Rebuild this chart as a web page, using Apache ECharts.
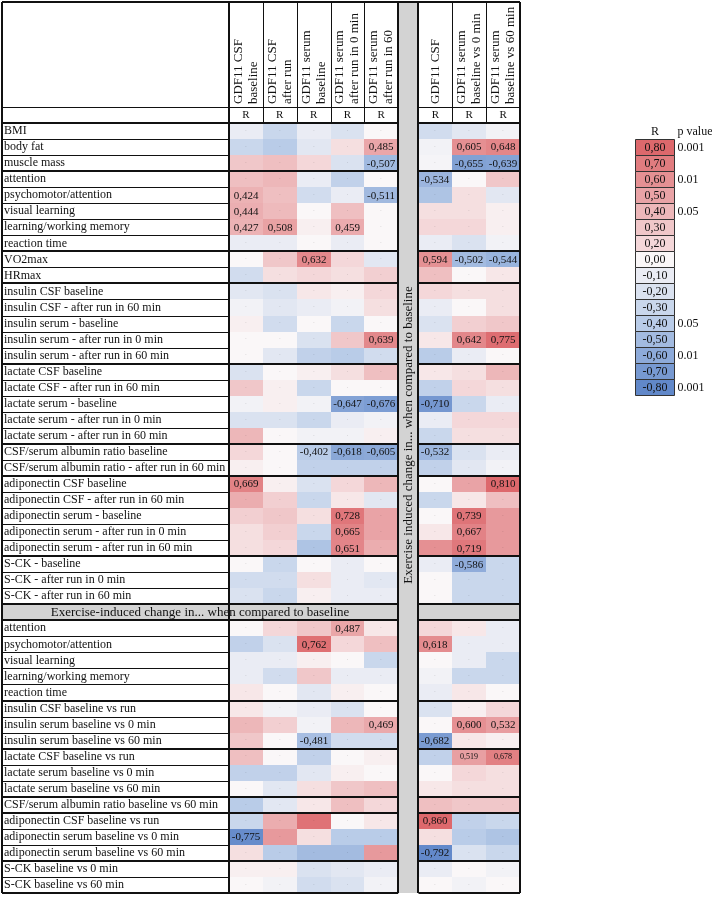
<!DOCTYPE html>
<html><head><meta charset="utf-8">
<script src="https://cdn.jsdelivr.net/npm/echarts@6/dist/echarts.min.js"></script>
<style>html,body{margin:0;padding:0;background:#fff}#c{width:712px;height:897px}</style>
</head><body><div id="c"></div><script>
const FONT = '"Liberation Serif", "Times New Roman", serif';

const columnNames = [
  'GDF11 CSF\nbaseline', 'GDF11 CSF\nafter run', 'GDF11 serum\nbaseline',
  'GDF11 serum\nafter run in 0 min', 'GDF11 serum\nafter run in 60',
  'GDF11 CSF', 'GDF11 serum\nbaseline vs 0 min', 'GDF11 serum\nbaseline vs 60 min'
];
const topRowLabels = [
  'BMI', 'body fat', 'muscle mass',
  'attention', 'psychomotor/attention', 'visual learning', 'learning/working memory', 'reaction time',
  'VO2max', 'HRmax',
  'insulin CSF baseline', 'insulin CSF - after run in 60 min', 'insulin serum - baseline', 'insulin serum - after run in 0 min', 'insulin serum - after run in 60 min',
  'lactate CSF baseline', 'lactate CSF - after run in 60 min', 'lactate serum - baseline', 'lactate serum - after run in 0 min', 'lactate serum - after run in 60 min',
  'CSF/serum albumin ratio baseline', 'CSF/serum albumin ratio - after run in 60 min',
  'adiponectin CSF baseline', 'adiponectin CSF - after run in 60 min', 'adiponectin serum - baseline', 'adiponectin serum - after run in 0 min', 'adiponectin serum - after run in 60 min',
  'S-CK - baseline', 'S-CK - after run in 0 min', 'S-CK - after run in 60 min'
];
const bottomRowLabels = [
  'attention', 'psychomotor/attention', 'visual learning', 'learning/working memory', 'reaction time',
  'insulin CSF baseline vs run', 'insulin serum baseline vs 0 min', 'insulin serum baseline vs 60 min',
  'lactate CSF baseline vs run', 'lactate serum baseline vs 0 min', 'lactate serum baseline vs 60 min',
  'CSF/serum albumin ratio baseline vs 60 min',
  'adiponectin CSF baseline vs run', 'adiponectin serum baseline vs 0 min', 'adiponectin serum baseline vs 60 min',
  'S-CK baseline vs 0 min', 'S-CK baseline vs 60 min'
];
const sectionTitle = 'Exercise-induced change in... when compared to baseline';
const bandTitle = 'Exercise induced change in... when compared to baseline';
const topGroupSizes = [3, 5, 2, 5, 5, 2, 5, 3];
const bottomGroupSizes = [5, 3, 3, 1, 3, 2];

// R values, one array per column (47 rows: 30 top, 17 bottom)
const gdfCsfBaseline = [-0.10,-0.30,0.30, 0.35,0.424,0.444,0.427,-0.10, 0.00,-0.25, -0.15,-0.05,0.05,0.00,0.00, -0.20,0.30,-0.05,-0.20,0.40, 0.20,0.05, 0.669,0.45,0.25,0.15,0.15, 0.00,-0.25,-0.20,
  0.00,-0.35,-0.10,-0.10,0.10, 0.10,0.40,0.30, 0.35,-0.35,0.00, -0.40, -0.30,-0.775,0.15, 0.05,0.00];
const gdfCsfAfterRun = [-0.30,-0.40,0.35, 0.40,0.35,0.38,0.508,-0.10, 0.30,0.15, -0.20,-0.15,-0.25,0.00,-0.15, 0.00,0.05,0.05,-0.20,0.00, 0.00,0.00, 0.05,0.25,0.30,0.25,0.20, -0.30,-0.25,-0.30,
  0.20,-0.20,-0.10,-0.25,0.00, -0.05,0.25,0.00, 0.00,-0.35,-0.15, -0.15, 0.45,0.55,-0.40, 0.05,-0.05];
const gdfSerumBaseline = [-0.10,-0.15,0.20, -0.10,-0.25,0.00,0.05,0.00, 0.632,0.20, 0.10,-0.10,0.00,-0.20,-0.35, 0.05,-0.30,-0.05,-0.30,-0.05, -0.402,-0.35, -0.20,-0.30,0.15,-0.30,-0.45, 0.00,0.15,0.05,
  0.30,0.762,0.05,0.30,-0.15, -0.10,-0.05,-0.481, -0.35,-0.15,0.15, 0.10, 0.75,0.15,-0.50, -0.20,-0.25];
const gdfSerumRun0 = [-0.20,0.15,-0.20, -0.35,-0.10,0.35,0.459,-0.10, 0.20,0.15, 0.05,-0.05,-0.30,0.30,-0.40, 0.15,0.00,-0.647,-0.10,-0.05, -0.618,-0.35, 0.20,0.10,0.728,0.665,0.651, -0.10,-0.10,-0.10,
  0.487,0.20,0.00,-0.10,0.05, -0.20,0.40,-0.25, 0.00,0.05,0.30, 0.35, 0.00,-0.40,-0.50, -0.15,-0.20];
const gdfSerumRun60 = [0.00,0.485,-0.507, 0.00,-0.511,0.00,0.00,0.00, -0.15,0.25, 0.20,0.15,0.00,0.639,-0.25, 0.35,0.00,-0.676,-0.05,0.05, -0.605,-0.35, 0.40,-0.15,0.50,0.50,0.45, 0.00,-0.15,-0.10,
  0.10,0.35,-0.30,-0.10,0.00, 0.00,0.469,-0.25, 0.05,0.00,0.35, 0.20, 0.10,-0.40,0.55, -0.10,-0.05];
const changeCsf = [-0.25,-0.05,-0.03, -0.534,-0.45,0.15,0.20,-0.10, 0.594,0.35, 0.20,-0.10,-0.20,0.10,-0.40, 0.10,-0.35,-0.710,-0.10,-0.30, -0.532,-0.35, 0.00,-0.30,0.00,0.10,0.60, -0.10,0.00,0.00,
  0.20,0.618,0.00,-0.05,-0.10, -0.20,0.00,-0.682, -0.35,0.00,0.10, 0.35, 0.860,0.15,-0.792, -0.10,0.00];
const changeSerum0 = [-0.15,0.605,-0.655, 0.00,0.15,0.15,0.20,-0.20, -0.502,0.00, 0.15,0.00,0.25,0.642,-0.10, 0.15,0.20,-0.30,0.20,0.15, -0.20,-0.15, 0.50,0.10,0.739,0.667,0.719, -0.586,-0.30,-0.30,
  0.10,-0.10,-0.10,-0.30,0.10, 0.05,0.600,0.10, 0.519,0.20,0.15, 0.30, -0.35,-0.40,-0.20, 0.00,-0.05];
const changeSerum60 = [-0.05,0.648,-0.639, 0.30,-0.15,0.05,0.05,-0.05, -0.544,0.10, 0.15,0.15,0.30,0.775,0.00, 0.40,0.15,-0.10,0.20,0.15, -0.10,-0.05, 0.810,0.35,0.55,0.55,0.55, -0.30,-0.30,-0.30,
  -0.10,-0.10,-0.30,-0.30,0.00, 0.20,0.532,0.05, 0.678,0.15,0.15, 0.30, -0.30,-0.45,-0.30, -0.05,0.00];

// significant cells [row, column] whose value is printed
const significantCells = [[1,4],[1,6],[1,7],[2,4],[2,6],[2,7],[3,5],[4,0],[4,4],[5,0],[6,0],[6,1],[6,3],
  [8,2],[8,5],[8,6],[8,7],[13,4],[13,6],[13,7],[17,3],[17,4],[17,5],[20,2],[20,3],[20,4],[20,5],
  [22,0],[22,7],[24,3],[24,6],[25,3],[25,6],[26,3],[26,6],[27,6],[30,3],[31,2],[31,5],[36,4],[36,6],[36,7],
  [37,2],[37,5],[38,6],[38,7],[42,5],[43,0],[44,5]];
const smallTextCells = [[38,6],[38,7]];

const legendValues = [0.80,0.70,0.60,0.50,0.40,0.30,0.20,0.00,-0.10,-0.20,-0.30,-0.40,-0.50,-0.60,-0.70,-0.80];
const legendPValues = ['0.001','','0.01','','0.05','','','','','','','0.05','','0.01','','0.001'];

// ---------- layout constants ----------
const TABLE_LEFT = 2, TABLE_TOP = 2;
const GAP_START = 5, GAP_END = 5.6;
const colX = [0,1,2,3,4,5.6,6.6,7.6];
const columns = [gdfCsfBaseline, gdfCsfAfterRun, gdfSerumBaseline, gdfSerumRun0, gdfSerumRun60, changeCsf, changeSerum0, changeSerum60];

const NTOP = topRowLabels.length;
const SECTION_CAT = NTOP + 1;
const categories = [''].concat(topRowLabels, [''], bottomRowLabels);
const catOf = k => k < NTOP ? k + 1 : k + 2;

const thickTops = new Set();
{ let c = 1; thickTops.add(c); topGroupSizes.forEach(s => { c += s; thickTops.add(c); });
  c = SECTION_CAT + 1; thickTops.add(c); bottomGroupSizes.forEach(s => { c += s; thickTops.add(c); }); }

const sigSet = new Set(significantCells.map(d => d[0] + '_' + d[1]));
const smallSet = new Set(smallTextCells.map(d => d[0] + '_' + d[1]));
const fmt = (v, n) => (v < 0 ? '-' : '') + Math.abs(v).toFixed(n).replace('.', ',');

const cellData = [];
columns.forEach((col, j) => col.forEach((v, k) => cellData.push([colX[j], catOf(k), v, k, j])));

function renderCell(params, api) {
  const p = api.coord([api.value(0), api.value(1)]);
  const w = api.size([1, 0])[0];
  const h = api.size([0, 1])[1];
  const x0 = Math.round(p[0]), x1 = Math.round(p[0] + w);
  const y0 = Math.round(p[1] - h / 2), y1 = Math.round(p[1] + h / 2);
  const k = api.value(3), j = api.value(4), v = api.value(2);
  const key = k + '_' + j;
  const children = [{ type: 'rect', shape: { x: x0, y: y0, width: x1 - x0, height: y1 - y0 }, style: { fill: api.visual('color') } }];
  if (sigSet.has(key)) {
    children.push({ type: 'text', x: (x0 + x1) / 2, y: p[1] + 0.5, style: { text: fmt(v, 3), fontFamily: FONT, fontSize: smallSet.has(key) ? 8 : 11, fill: '#111', align: 'center', verticalAlign: 'middle' } });
  } else {
    children.push({ type: 'text', x: (x0 + x1) / 2, y: p[1], style: { text: '·', fontFamily: FONT, fontSize: 7, fill: 'rgba(0,0,0,0.22)', align: 'center', verticalAlign: 'middle' } });
  }
  return { type: 'group', children };
}

function line(x1, y1, x2, y2, w) {
  return { type: 'line', shape: { x1, y1, x2, y2 }, style: { stroke: '#111', lineWidth: w } };
}

function renderRowLine(params, api) {
  const cs = params.coordSys;
  const i = api.value(1);
  const h = api.size([0, 1])[1];
  const y = Math.round(api.coord([0, i])[1] - h / 2);
  const xb0 = api.coord([GAP_START, 0])[0], xb1 = api.coord([GAP_END, 0])[0];
  const right = cs.x + cs.width;
  const ch = [];
  if (thickTops.has(i)) {
    ch.push(line(TABLE_LEFT, y, xb0, y, 2), line(xb1, y, right, y, 2));
  } else if (i === 0) {
    ch.push(line(TABLE_LEFT, y + 0.5, xb0, y + 0.5, 1), line(xb1, y + 0.5, right, y + 0.5, 1));
  } else {
    ch.push(line(TABLE_LEFT, y + 0.5, cs.x, y + 0.5, 1));
  }
  if (i === categories.length - 1) {
    const yb = Math.round(api.coord([0, i])[1] + h / 2);
    ch.push(line(TABLE_LEFT, yb, xb0, yb, 2), line(xb1, yb, right, yb, 2));
  }
  return { type: 'group', children: ch };
}

function renderFrame(params, api) {
  const cs = params.coordSys;
  const h = api.size([0, 1])[1];
  const rowTop = i => api.coord([0, i])[1] - h / 2;
  const bottom = cs.y + cs.height, right = cs.x + cs.width;
  const xb0 = api.coord([GAP_START, 0])[0], xb1 = api.coord([GAP_END, 0])[0];
  const ch = [];
  ch.push({ type: 'rect', shape: { x: xb0, y: TABLE_TOP, width: xb1 - xb0, height: bottom - TABLE_TOP }, style: { fill: '#d3d3d3' } });
  const sy0 = Math.round(rowTop(SECTION_CAT)), sy1 = Math.round(rowTop(SECTION_CAT + 1));
  ch.push({ type: 'rect', shape: { x: TABLE_LEFT, y: sy0, width: xb0 - TABLE_LEFT, height: sy1 - sy0 }, style: { fill: '#d3d3d3' } });
  ch.push({ type: 'rect', shape: { x: xb1, y: sy0, width: right - xb1, height: sy1 - sy0 }, style: { fill: '#d3d3d3' } });
  ch.push({ type: 'text', x: (TABLE_LEFT + xb0) / 2, y: (sy0 + sy1) / 2 + 0.5, style: { text: sectionTitle, fontFamily: FONT, fontSize: 13, fill: '#111', align: 'center', verticalAlign: 'middle' } });
  ch.push({ type: 'text', x: (xb0 + xb1) / 2 + 0.5, y: 435, rotation: Math.PI / 2, style: { text: bandTitle, fontFamily: FONT, fontSize: 13, fill: '#111', align: 'center', verticalAlign: 'middle' } });
  const rTop = rowTop(0), rBot = rowTop(1);
  colX.forEach((x, j) => {
    const cx = api.coord([x + 0.5, 0])[0];
    ch.push({ type: 'text', x: cx, y: rTop - 3, rotation: Math.PI / 2, style: { text: columnNames[j], fontFamily: FONT, fontSize: 13, lineHeight: 15, fill: '#111', align: 'left', verticalAlign: 'middle' } });
    ch.push({ type: 'text', x: cx, y: (rTop + rBot) / 2 + 0.5, style: { text: 'R', fontFamily: FONT, fontSize: 11, fill: '#111', align: 'center', verticalAlign: 'middle' } });
    if (j !== 0 && j !== 5) {
      const lx = Math.round(api.coord([x, 0])[0]) + 0.5;
      ch.push(line(lx, TABLE_TOP, lx, rBot, 1));
    }
  });
  [TABLE_LEFT, cs.x, xb0, xb1, right].forEach(x => ch.push(line(Math.round(x), TABLE_TOP, Math.round(x), bottom, 2)));
  ch.push(line(TABLE_LEFT, TABLE_TOP, right, TABLE_TOP, 2));
  return { type: 'group', children: ch };
}

function renderLegend(params, api) {
  const i = api.value(1);
  const p = api.coord([0, i]);
  const w = api.size([1, 0])[0];
  const h = api.size([0, 1])[1];
  const x0 = Math.round(p[0]) + 0.5, y0 = Math.round(p[1] - h / 2) + 0.5;
  const ch = [
    { type: 'rect', shape: { x: x0, y: y0, width: Math.round(w), height: Math.round(h) }, style: { fill: api.visual('color'), stroke: '#333', lineWidth: 1 } },
    { type: 'text', x: x0 + w / 2, y: p[1] + 0.5, style: { text: fmt(api.value(2), 2), fontFamily: FONT, fontSize: 12, fill: '#111', align: 'center', verticalAlign: 'middle' } }
  ];
  const pv = legendPValues[i];
  if (pv) ch.push({ type: 'text', x: x0 + w + 3, y: p[1] + 0.5, style: { text: pv, fontFamily: FONT, fontSize: 12, fill: '#111', align: 'left', verticalAlign: 'middle' } });
  if (i === 0) {
    ch.push({ type: 'text', x: x0 + w / 2, y: y0 - 8, style: { text: 'R', fontFamily: FONT, fontSize: 12, fill: '#111', align: 'center', verticalAlign: 'middle' } });
    ch.push({ type: 'text', x: x0 + w + 3, y: y0 - 8, style: { text: 'p value', fontFamily: FONT, fontSize: 12, fill: '#111', align: 'left', verticalAlign: 'middle' } });
  }
  return { type: 'group', children: ch };
}

const chart = echarts.init(document.getElementById('c'), null, { renderer: 'canvas' });
chart.setOption({
  animation: false,
  backgroundColor: '#fff',
  grid: [
    { left: 229, right: 192, top: 107, bottom: 4 },
    { left: 635, width: 39, top: 139, height: 256 }
  ],
  xAxis: [
    { type: 'value', gridIndex: 0, min: 0, max: 8.6, show: false },
    { type: 'value', gridIndex: 1, min: 0, max: 1, show: false }
  ],
  yAxis: [
    { type: 'category', gridIndex: 0, data: categories, inverse: true,
      axisLine: { show: false }, axisTick: { show: false }, splitLine: { show: false },
      axisLabel: { align: 'left', margin: 225, interval: 0, fontFamily: FONT, fontSize: 12, color: '#111' } },
    { type: 'category', gridIndex: 1, data: legendValues.map(v => fmt(v, 2)), inverse: true, show: false }
  ],
  visualMap: {
    show: false, type: 'continuous', min: -0.8, max: 0.8, dimension: 2, seriesIndex: [0, 3],
    inRange: { color: ['#6188c9', '#b9cce8', '#faf7f8', '#edb7b9', '#dd686c'] }
  },
  series: [
    { type: 'custom', xAxisIndex: 0, yAxisIndex: 0, data: cellData, encode: { x: 0, y: 1 }, renderItem: renderCell, z: 2 },
    { type: 'custom', xAxisIndex: 0, yAxisIndex: 0, data: categories.map((c, i) => [0, i]), encode: { x: 0, y: 1 }, renderItem: renderRowLine, z: 4 },
    { type: 'custom', xAxisIndex: 0, yAxisIndex: 0, data: [[0, 0]], encode: { x: 0, y: 1 }, renderItem: renderFrame, z: 3 },
    { type: 'custom', xAxisIndex: 1, yAxisIndex: 1, data: legendValues.map((v, i) => [0, i, v]), encode: { x: 0, y: 1 }, renderItem: renderLegend, z: 2 }
  ]
});
</script></body></html>
